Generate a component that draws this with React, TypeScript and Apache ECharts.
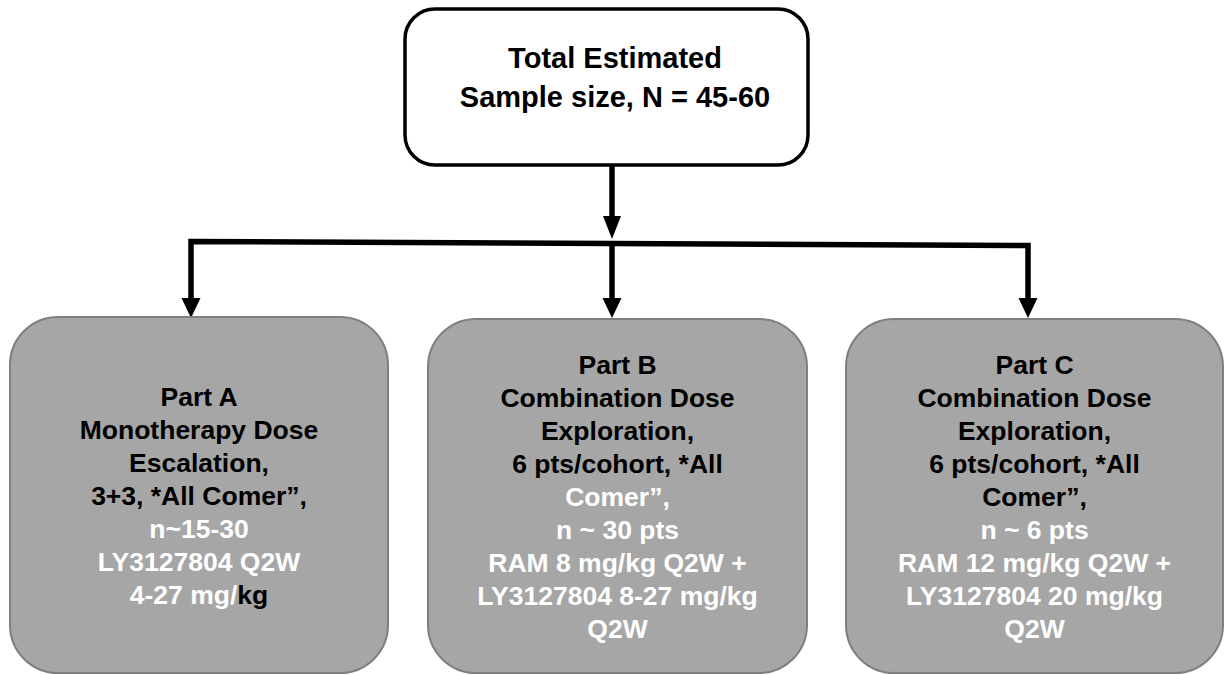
import React, { useEffect, useRef } from "react";
import * as echarts from "echarts";

// ---- content ----
const topLines: string[] = ["Total Estimated", "Sample size, N = 45-60"];

// each line: list of [text, colour-key]
type Seg = [string, "b" | "w"];
const partALines: Seg[][] = [
  [["Part A", "b"]],
  [["Monotherapy Dose", "b"]],
  [["Escalation,", "b"]],
  [["3+3, *All Comer\u201D,", "b"]],
  [["n~15-30", "w"]],
  [["LY3127804 Q2W", "w"]],
  [["4-27 mg/", "w"], ["kg", "b"]],
];
const partBLines: Seg[][] = [
  [["Part B", "b"]],
  [["Combination Dose", "b"]],
  [["Exploration,", "b"]],
  [["6 pts/cohort, *All", "b"]],
  [["Comer\u201D,", "w"]],
  [["n ~ 30 pts", "w"]],
  [["RAM 8 mg/kg Q2W +", "w"]],
  [["LY3127804 8-27 mg/kg", "w"]],
  [["Q2W", "w"]],
];
const partCLines: Seg[][] = [
  [["Part C", "b"]],
  [["Combination Dose", "b"]],
  [["Exploration,", "b"]],
  [["6 pts/cohort, *All", "b"]],
  [["Comer\u201D,", "b"]],
  [["n ~ 6 pts", "w"]],
  [["RAM 12 mg/kg Q2W +", "w"]],
  [["LY3127804 20 mg/kg", "w"]],
  [["Q2W", "w"]],
];

const FONT = "'Liberation Sans', Arial, Helvetica, sans-serif";
const FS = 26.5;

export default function App() {
  const ref = useRef<HTMLDivElement>(null);
  useEffect(() => {
    if (!ref.current) return;
    const chart = echarts.init(ref.current, undefined, { renderer: "svg" });

    const els: any[] = [];

    // top box
    els.push({
      type: "rect",
      shape: { x: 405, y: 9, width: 403, height: 156, r: 30 },
      style: { fill: "#ffffff", stroke: "#000000", lineWidth: 3.5 },
    });
    topLines.forEach((t, i) => {
      els.push({
        type: "text",
        x: 615,
        y: 58 + i * 39,
        style: {
          text: t,
          fill: "#000",
          fontSize: 29,
          fontWeight: "bold",
          fontFamily: FONT,
          align: "center",
          verticalAlign: "middle",
        },
      });
    });

    // connectors
    const lw = 5.5;
    els.push({
      type: "polyline",
      shape: { points: [[612, 165], [612, 220]] },
      style: { stroke: "#000", lineWidth: lw, fill: null },
    });
    els.push({
      type: "polygon",
      shape: { points: [[603, 216], [621, 216], [612, 239]] },
      style: { fill: "#000" },
    });
    els.push({
      type: "polyline",
      shape: { points: [[191, 302], [191, 241.5], [1028, 245.5], [1028, 302]] },
      style: { stroke: "#000", lineWidth: lw, fill: null, lineJoin: "miter" },
    });
    els.push({
      type: "polyline",
      shape: { points: [[612, 243], [612, 302]] },
      style: { stroke: "#000", lineWidth: lw, fill: null },
    });
    [191, 612, 1028].forEach((x) => {
      els.push({
        type: "polygon",
        shape: { points: [[x - 9.5, 298], [x + 9.5, 298], [x, 318]] },
        style: { fill: "#000" },
      });
    });

    // bottom boxes
    const boxes = [
      { x: 10, y: 317, w: 378, lines: partALines, firstY: 397 },
      { x: 428, y: 319, w: 379, lines: partBLines, firstY: 365 },
      { x: 846, y: 319, w: 377, lines: partCLines, firstY: 365 },
    ];
    boxes.forEach((b) => {
      els.push({
        type: "rect",
        shape: { x: b.x, y: b.y, width: b.w, height: 673 - b.y, r: 48 },
        style: { fill: "#a6a6a6", stroke: "#7f7f7f", lineWidth: 2 },
      });
      const cx = b.x + b.w / 2;
      b.lines.forEach((segs, i) => {
        const text = segs.map(([s, c]) => `{${c}|${s}}`).join("");
        els.push({
          type: "text",
          x: cx,
          y: b.firstY + i * 33,
          style: {
            text,
            fontSize: FS,
            fontWeight: "bold",
            fontFamily: FONT,
            align: "center",
            verticalAlign: "middle",
            rich: {
              b: { fill: "#000000", fontSize: FS, fontWeight: "bold", fontFamily: FONT },
              w: { fill: "#ffffff", fontSize: FS, fontWeight: "bold", fontFamily: FONT },
            },
          },
        });
      });
    });

    chart.setOption({
      animation: false,
      backgroundColor: "#ffffff",
      series: [],
      graphic: { elements: els },
    });
    return () => chart.dispose();
  }, []);
  return (
    <div
      ref={ref}
      style={{ position: "fixed", left: 0, top: 0, width: 1226, height: 675 }}
    />
  );
}
